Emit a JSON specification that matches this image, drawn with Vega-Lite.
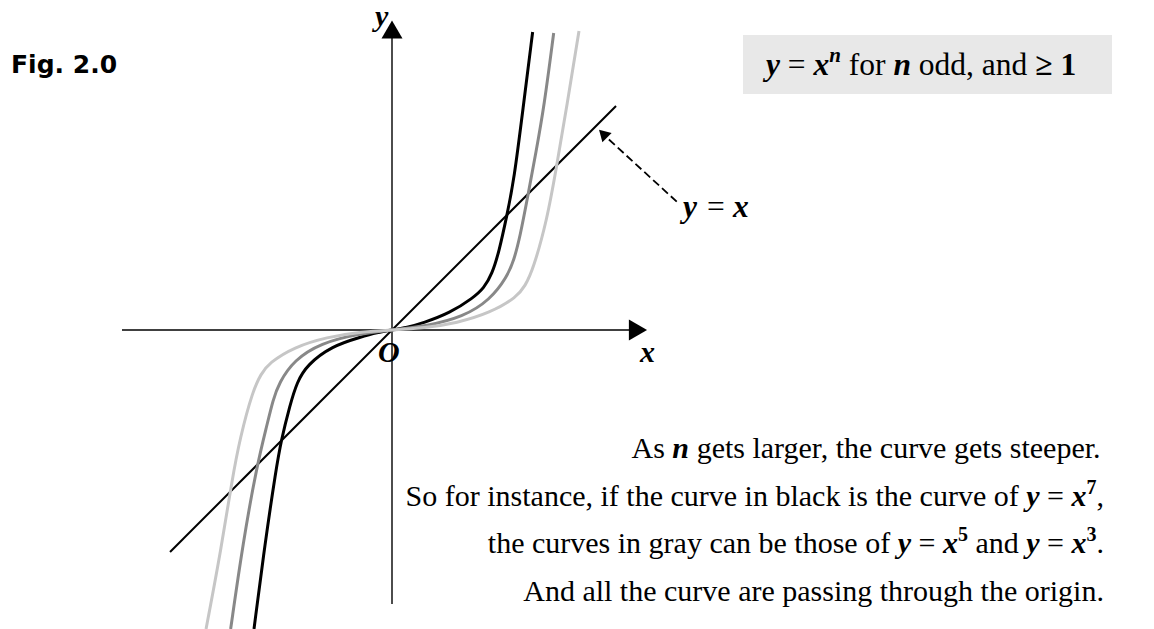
{
  "$schema": "https://vega.github.io/schema/vega-lite/v6.json",
  "width": 1154,
  "height": 629,
  "padding": 0,
  "autosize": {"type": "none"},
  "background": "white",
  "config": {"view": {"stroke": null}},
  "datasets": {
    "formulaBox": [{"x": 3.052, "y": 2.565, "x2": 6.261, "y2": 2.052}],
    "axes": [
      {"x": -2.348, "y": 0, "x2": 2.07, "y2": 0},
      {"x": 0, "y": -2.383, "x2": 0, "y2": 2.539}
    ],
    "identity": [{"x": -1.93, "y": -1.93, "x2": 1.948, "y2": 1.948}],
    "pointer": [{"x": 2.476, "y": 1.116, "x2": 1.867, "y2": 1.674}],
    "axisArrows": [
      {"x": 2.139, "y": 0, "angle": 90},
      {"x": 0, "y": 2.613, "angle": 0}
    ],
    "pointerHead": [{"x": 1.835, "y": 1.707, "angle": 315}],
    "powerCurves": [
      {"curve": "n = 7", "x": -1.2, "y": -2.6},
      {"curve": "n = 7", "x": -1.104, "y": -1.852},
      {"curve": "n = 7", "x": -1.009, "y": -1.217},
      {"curve": "n = 7", "x": -0.965, "y": -0.965},
      {"curve": "n = 7", "x": -0.887, "y": -0.652},
      {"curve": "n = 7", "x": -0.826, "y": -0.452},
      {"curve": "n = 7", "x": -0.739, "y": -0.304},
      {"curve": "n = 7", "x": -0.522, "y": -0.139},
      {"curve": "n = 7", "x": -0.27, "y": -0.061},
      {"curve": "n = 7", "x": -0.13, "y": -0.022},
      {"curve": "n = 7", "x": 0, "y": 0},
      {"curve": "n = 7", "x": 0.13, "y": 0.022},
      {"curve": "n = 7", "x": 0.27, "y": 0.061},
      {"curve": "n = 7", "x": 0.504, "y": 0.148},
      {"curve": "n = 7", "x": 0.704, "y": 0.278},
      {"curve": "n = 7", "x": 0.8, "y": 0.365},
      {"curve": "n = 7", "x": 0.87, "y": 0.487},
      {"curve": "n = 7", "x": 0.93, "y": 0.678},
      {"curve": "n = 7", "x": 1, "y": 1},
      {"curve": "n = 7", "x": 1.061, "y": 1.304},
      {"curve": "n = 7", "x": 1.139, "y": 1.922},
      {"curve": "n = 7", "x": 1.223, "y": 2.591},
      {"curve": "n = 5", "x": -1.403, "y": -2.6},
      {"curve": "n = 5", "x": -1.296, "y": -1.852},
      {"curve": "n = 5", "x": -1.174, "y": -1.174},
      {"curve": "n = 5", "x": -1.087, "y": -0.826},
      {"curve": "n = 5", "x": -1.035, "y": -0.609},
      {"curve": "n = 5", "x": -0.983, "y": -0.461},
      {"curve": "n = 5", "x": -0.852, "y": -0.261},
      {"curve": "n = 5", "x": -0.617, "y": -0.113},
      {"curve": "n = 5", "x": -0.304, "y": -0.035},
      {"curve": "n = 5", "x": 0, "y": 0},
      {"curve": "n = 5", "x": 0.304, "y": 0.035},
      {"curve": "n = 5", "x": 0.617, "y": 0.113},
      {"curve": "n = 5", "x": 0.852, "y": 0.261},
      {"curve": "n = 5", "x": 1, "y": 0.461},
      {"curve": "n = 5", "x": 1.061, "y": 0.609},
      {"curve": "n = 5", "x": 1.113, "y": 0.809},
      {"curve": "n = 5", "x": 1.183, "y": 1.174},
      {"curve": "n = 5", "x": 1.252, "y": 1.548},
      {"curve": "n = 5", "x": 1.322, "y": 1.939},
      {"curve": "n = 5", "x": 1.406, "y": 2.583},
      {"curve": "n = 3", "x": -1.617, "y": -2.6},
      {"curve": "n = 3", "x": -1.487, "y": -1.913},
      {"curve": "n = 3", "x": -1.391, "y": -1.304},
      {"curve": "n = 3", "x": -1.322, "y": -0.939},
      {"curve": "n = 3", "x": -1.209, "y": -0.522},
      {"curve": "n = 3", "x": -1.139, "y": -0.383},
      {"curve": "n = 3", "x": -1.07, "y": -0.287},
      {"curve": "n = 3", "x": -0.852, "y": -0.148},
      {"curve": "n = 3", "x": -0.565, "y": -0.061},
      {"curve": "n = 3", "x": -0.278, "y": -0.017},
      {"curve": "n = 3", "x": 0, "y": 0},
      {"curve": "n = 3", "x": 0.278, "y": 0.017},
      {"curve": "n = 3", "x": 0.565, "y": 0.061},
      {"curve": "n = 3", "x": 0.852, "y": 0.148},
      {"curve": "n = 3", "x": 1.087, "y": 0.287},
      {"curve": "n = 3", "x": 1.157, "y": 0.383},
      {"curve": "n = 3", "x": 1.226, "y": 0.522},
      {"curve": "n = 3", "x": 1.348, "y": 0.957},
      {"curve": "n = 3", "x": 1.426, "y": 1.391},
      {"curve": "n = 3", "x": 1.522, "y": 1.957},
      {"curve": "n = 3", "x": 1.626, "y": 2.6}
    ],
    "proseRegular": [
      {"text": "As", "x": 2.083, "y": -1.117},
      {"text": "gets larger, the curve gets steeper.", "x": 2.649, "y": -1.117},
      {"text": "So for instance, if the curve in black is the curve of", "x": 0.118, "y": -1.53},
      {"text": "=", "x": 5.696, "y": -1.53},
      {"text": ",", "x": 6.126, "y": -1.53},
      {"text": "the curves in gray can be those of", "x": 0.833, "y": -1.943},
      {"text": "=", "x": 4.578, "y": -1.943},
      {"text": "and", "x": 5.073, "y": -1.943},
      {"text": "=", "x": 5.696, "y": -1.943},
      {"text": ".", "x": 6.126, "y": -1.943},
      {"text": "And all the curve are passing through the origin.", "x": 1.141, "y": -2.357}
    ],
    "proseMath": [
      {"text": "n", "x": 2.438, "y": -1.117},
      {"text": "y", "x": 5.515, "y": -1.53},
      {"text": "x", "x": 5.909, "y": -1.53},
      {"text": "y", "x": 4.397, "y": -1.943},
      {"text": "x", "x": 4.791, "y": -1.943},
      {"text": "y", "x": 5.515, "y": -1.943},
      {"text": "x", "x": 5.909, "y": -1.943},
      {"text": "y", "x": -0.148, "y": 2.643},
      {"text": "x", "x": 2.157, "y": -0.278},
      {"text": "O", "x": -0.122, "y": -0.278}
    ],
    "proseExponents": [
      {"text": "7", "x": 6.039, "y": -1.426},
      {"text": "5", "x": 4.921, "y": -1.839},
      {"text": "3", "x": 6.039, "y": -1.839}
    ],
    "headlineMath": [
      {"text": "y", "x": 3.252, "y": 2.217},
      {"text": "x", "x": 3.665, "y": 2.217},
      {"text": "n", "x": 4.36, "y": 2.217},
      {"text": "y", "x": 2.53, "y": 0.983},
      {"text": "x", "x": 2.965, "y": 0.983}
    ],
    "headlineRegular": [
      {"text": "=", "x": 3.442, "y": 2.217},
      {"text": "for", "x": 3.972, "y": 2.217},
      {"text": "odd, and", "x": 4.581, "y": 2.217},
      {"text": "=", "x": 2.739, "y": 0.983}
    ],
    "headlineBold": [
      {"text": "≥", "x": 5.593, "y": 2.217},
      {"text": "1", "x": 5.812, "y": 2.217}
    ],
    "headlineExponent": [{"text": "n", "x": 3.802, "y": 2.33}],
    "figureLabel": [{"text": "Fig. 2.0", "x": -3.313, "y": 2.235}]
  },
  "encoding": {
    "x": {"field": "x", "type": "quantitative", "scale": {"domain": [-3.4087, 6.6261], "nice": false, "zero": false}, "axis": null},
    "y": {"field": "y", "type": "quantitative", "scale": {"domain": [-2.6, 2.8696], "nice": false, "zero": false}, "axis": null}
  },
  "layer": [
    {
      "data": {"name": "formulaBox"},
      "mark": {"type": "rect", "fill": "#e8e8e8"},
      "encoding": {"x2": {"field": "x2"}, "y2": {"field": "y2"}}
    },
    {
      "data": {"name": "axes"},
      "mark": {"type": "rule", "color": "black", "strokeWidth": 1.4},
      "encoding": {"x2": {"field": "x2"}, "y2": {"field": "y2"}}
    },
    {
      "data": {"name": "identity"},
      "mark": {"type": "rule", "color": "black", "strokeWidth": 2},
      "encoding": {"x2": {"field": "x2"}, "y2": {"field": "y2"}}
    },
    {
      "data": {"name": "powerCurves"},
      "mark": {"type": "line", "interpolate": "basis", "strokeCap": "butt"},
      "encoding": {
        "color": {"field": "curve", "type": "nominal", "scale": {"domain": ["n = 3", "n = 5", "n = 7"], "range": ["#c6c6c6", "#888888", "#000000"]}, "legend": null},
        "strokeWidth": {"field": "curve", "type": "ordinal", "scale": {"domain": ["n = 3", "n = 5", "n = 7"], "range": [3, 3, 3.6]}, "legend": null}
      }
    },
    {
      "data": {"name": "pointer"},
      "mark": {"type": "rule", "color": "black", "strokeWidth": 1.8, "strokeDash": [8, 4]},
      "encoding": {"x2": {"field": "x2"}, "y2": {"field": "y2"}}
    },
    {
      "data": {"name": "axisArrows"},
      "mark": {"type": "point", "shape": "triangle-up", "size": 441, "filled": true, "color": "black", "opacity": 1},
      "encoding": {"angle": {"field": "angle", "type": "quantitative", "scale": null}}
    },
    {
      "data": {"name": "pointerHead"},
      "mark": {"type": "point", "shape": "triangle-up", "size": 169, "filled": true, "color": "black", "opacity": 1},
      "encoding": {"angle": {"field": "angle", "type": "quantitative", "scale": null}}
    },
    {
      "data": {"name": "proseRegular"},
      "mark": {"type": "text", "font": "Liberation Serif", "fontSize": 30, "align": "left", "baseline": "alphabetic", "color": "black"},
      "encoding": {"text": {"field": "text"}}
    },
    {
      "data": {"name": "proseMath"},
      "mark": {"type": "text", "font": "Liberation Serif", "fontSize": 30, "fontStyle": "italic", "fontWeight": "bold", "align": "left", "baseline": "alphabetic", "color": "black"},
      "encoding": {"text": {"field": "text"}}
    },
    {
      "data": {"name": "proseExponents"},
      "mark": {"type": "text", "font": "Liberation Serif", "fontSize": 20, "fontWeight": "bold", "align": "left", "baseline": "alphabetic", "color": "black"},
      "encoding": {"text": {"field": "text"}}
    },
    {
      "data": {"name": "headlineMath"},
      "mark": {"type": "text", "font": "Liberation Serif", "fontSize": 31.5, "fontStyle": "italic", "fontWeight": "bold", "align": "left", "baseline": "alphabetic", "color": "black"},
      "encoding": {"text": {"field": "text"}}
    },
    {
      "data": {"name": "headlineRegular"},
      "mark": {"type": "text", "font": "Liberation Serif", "fontSize": 31.5, "align": "left", "baseline": "alphabetic", "color": "black"},
      "encoding": {"text": {"field": "text"}}
    },
    {
      "data": {"name": "headlineBold"},
      "mark": {"type": "text", "font": "Liberation Serif", "fontSize": 31.5, "fontWeight": "bold", "align": "left", "baseline": "alphabetic", "color": "black"},
      "encoding": {"text": {"field": "text"}}
    },
    {
      "data": {"name": "headlineExponent"},
      "mark": {"type": "text", "font": "Liberation Serif", "fontSize": 21, "fontStyle": "italic", "fontWeight": "bold", "align": "left", "baseline": "alphabetic", "color": "black"},
      "encoding": {"text": {"field": "text"}}
    },
    {
      "data": {"name": "figureLabel"},
      "mark": {"type": "text", "font": "DejaVu Sans", "fontSize": 25, "fontWeight": "bold", "align": "left", "baseline": "alphabetic", "color": "black"},
      "encoding": {"text": {"field": "text"}}
    }
  ]
}
